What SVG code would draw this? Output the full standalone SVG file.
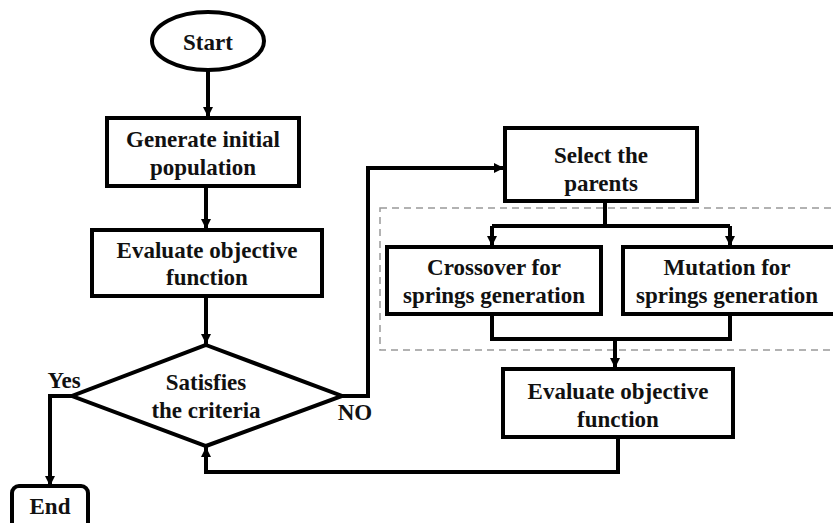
<svg xmlns="http://www.w3.org/2000/svg" width="833" height="523" viewBox="0 0 833 523">
<defs>
<marker id="ah" viewBox="0 0 10 10" refX="10" refY="5" markerWidth="10" markerHeight="11" markerUnits="userSpaceOnUse" orient="auto">
<path d="M0,0 L10,5 L0,10 Z" fill="#000"/>
</marker>
</defs>
<style>
.n{fill:#fff;stroke:#000;stroke-width:4}
.c{fill:none;stroke:#000;stroke-width:4}
.d{fill:none;stroke:#999;stroke-width:1.5;stroke-dasharray:7,5}
.t{font-family:"Liberation Serif","Times New Roman",serif;font-weight:bold;font-size:23px;fill:#111;text-anchor:middle}
</style>
<rect x="380" y="208" width="460" height="142" class="d"/>
<g id="connectors">
<path d="M208,71 V117" class="c" marker-end="url(#ah)"/>
<path d="M206,186 V229" class="c" marker-end="url(#ah)"/>
<path d="M206,296 V344" class="c" marker-end="url(#ah)"/>
<path d="M72,396 H50 V486" class="c" marker-end="url(#ah)"/>
<path d="M342,396 H368 V168 H504" class="c" marker-end="url(#ah)"/>
<path d="M605,201 V226" class="c"/>
<path d="M492,226 H730" class="c"/>
<path d="M492,226 V246" class="c" marker-end="url(#ah)"/>
<path d="M730,226 V246" class="c" marker-end="url(#ah)"/>
<path d="M492,314 V339 H730 V314" class="c"/>
<path d="M615,339 V368" class="c" marker-end="url(#ah)"/>
<path d="M618,437 V472 H206 V447" class="c" marker-end="url(#ah)"/>
</g>
<g id="start"><ellipse cx="208" cy="41" rx="56" ry="29" class="n"/><text x="208" y="50" class="t">Start</text></g>
<g id="generate"><rect x="107" y="118" width="192" height="68" class="n"/><text x="203" y="147" class="t">Generate initial</text><text x="203" y="175" class="t">population</text></g>
<g id="evaluate1"><rect x="92" y="230" width="230" height="66" class="n"/><text x="207" y="258" class="t">Evaluate objective</text><text x="207" y="285" class="t">function</text></g>
<g id="decision"><path d="M206,345 L342,396 L206,446 L72,396 Z" class="n"/><text x="206" y="390" class="t">Satisfies</text><text x="206" y="418" class="t">the criteria</text></g>
<g id="end"><rect x="12" y="486" width="76" height="50" rx="7" class="n"/><text x="50" y="514" class="t">End</text></g>
<g id="select"><rect x="505" y="128" width="192" height="73" class="n"/><text x="601" y="163" class="t">Select the</text><text x="601" y="191" class="t">parents</text></g>
<g id="crossover"><rect x="387" y="247" width="214" height="67" class="n"/><text x="494" y="275" class="t">Crossover for</text><text x="494" y="303" class="t">springs generation</text></g>
<g id="mutation"><rect x="623" y="247" width="230" height="67" class="n"/><text x="727" y="275" class="t">Mutation for</text><text x="727" y="303" class="t">springs generation</text></g>
<g id="evaluate2"><rect x="503" y="369" width="230" height="68" class="n"/><text x="618" y="399" class="t">Evaluate objective</text><text x="618" y="427" class="t">function</text></g>
<g id="labels"><text x="64" y="388" class="t">Yes</text><text x="355" y="420" class="t">NO</text></g>
</svg>
